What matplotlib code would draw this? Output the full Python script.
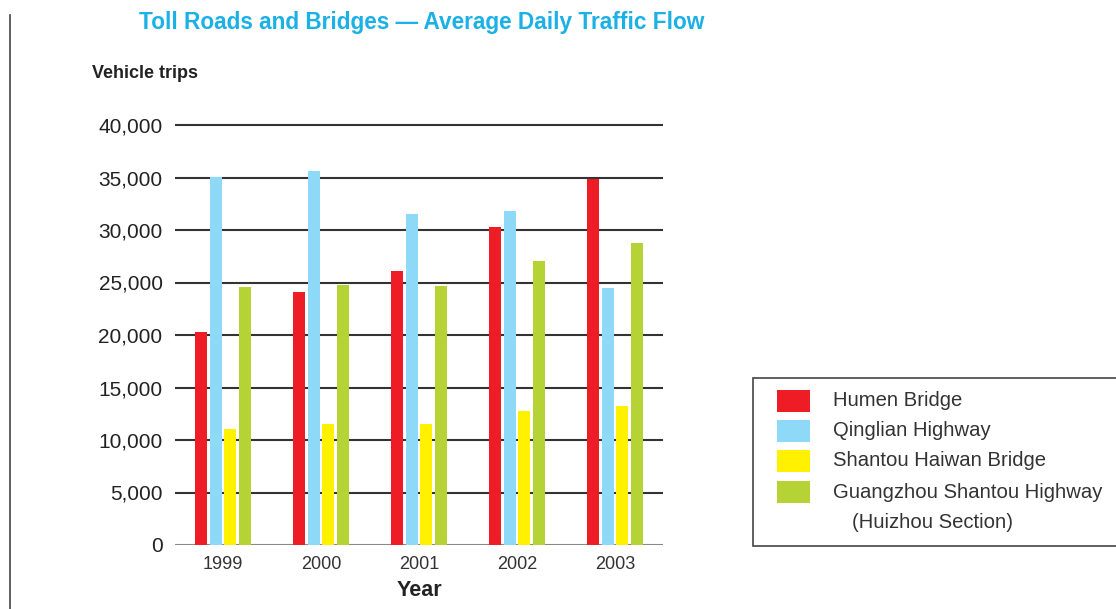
import matplotlib
matplotlib.use("Agg")
import matplotlib.pyplot as plt
from matplotlib.patches import Rectangle
from matplotlib.lines import Line2D
import numpy as np

years = ["1999", "2000", "2001", "2002", "2003"]
series_names = ["Humen Bridge", "Qinglian Highway", "Shantou Haiwan Bridge",
                "Guangzhou Shantou Highway"]
humen = [20300, 24100, 26100, 30300, 34900]
qinglian = [35050, 35600, 31500, 31800, 24500]
shantou_haiwan = [11050, 11550, 11550, 12750, 13250]
guangzhou_shantou = [24600, 24750, 24650, 27050, 28750]
colors = ["#EE1C25", "#8ED8F8", "#FFF100", "#B5D334"]
yticks = [0, 5000, 10000, 15000, 20000, 25000, 30000, 35000, 40000]

plt.rcParams['font.family'] = ['Liberation Sans', 'DejaVu Sans']

W, H = 1116, 609
fig = plt.figure(figsize=(W / 100, H / 100), dpi=100)

ymax = 40500
px_per_unit = 420 / 40000
ax_h = ymax * px_per_unit
ax = fig.add_axes([175 / W, (H - 545) / H, 488 / W, ax_h / H])

x = np.arange(len(years))
data = [humen, qinglian, shantou_haiwan, guangzhou_shantou]
step = 14.5 / 98
width = 12 / 98
for i, (vals, c) in enumerate(zip(data, colors)):
    ax.bar(x + (i - 1.5) * step, vals, width=width, color=c, zorder=3)

ax.set_xlim(-0.49, len(years) - 1 + 0.49)
ax.set_ylim(0, ymax)
ax.set_yticks(yticks)
ax.set_yticklabels([f"{v:,}" for v in yticks])
ax.set_xticks(x)
ax.set_xticklabels(years)
for s in ax.spines.values():
    s.set_visible(False)
ax.tick_params(axis='both', length=0, labelcolor='#222222')
ax.tick_params(axis='y', pad=9, labelsize=15)
ax.tick_params(axis='x', pad=8, labelsize=13, labelcolor='#333333')
for v in yticks:
    ax.axhline(v, color='#888888' if v == 0 else '#333333', lw=1.5, zorder=1)
ax.set_xlabel("Year", fontsize=15.5, fontweight='bold', color='#222222', labelpad=5)

fig.text(422 / W, 1 - 22 / H, "Toll Roads and Bridges \u2014 Average Daily Traffic Flow",
         ha='center', va='center', fontsize=16.3, fontweight='bold', color='#1BB0E6')
fig.text(92 / W, 1 - 73 / H, "Vehicle trips", ha='left', va='center',
         fontsize=13, fontweight='bold', color='#222222')

# left border line
fig.add_artist(Line2D([10 / W, 10 / W], [0, 1 - 15 / H], transform=fig.transFigure,
                      color='#444444', lw=1.2))

# legend box
fig.add_artist(Rectangle((753 / W, 1 - 546 / H), (1116 - 753 + 5) / W, (546 - 378) / H,
                         transform=fig.transFigure, facecolor='white',
                         edgecolor='#444444', lw=1.2))
rows_y = [401, 431, 461, 492]
for name, c, ry in zip(series_names, colors, rows_y):
    fig.add_artist(Rectangle((777 / W, 1 - (ry + 11) / H), 33 / W, 22 / H,
                             transform=fig.transFigure, facecolor=c, edgecolor='none'))
    fig.text(833 / W, 1 - ry / H, name, ha='left', va='center', fontsize=14.6,
             color='#333333')
fig.text(852 / W, 1 - 522 / H, "(Huizhou Section)", ha='left', va='center',
         fontsize=14.6, color='#333333')

fig.savefig("out.png", dpi=100)
